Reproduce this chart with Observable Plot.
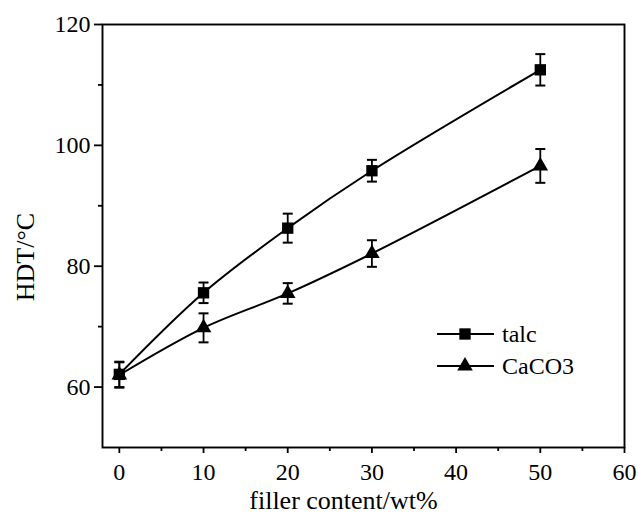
<!DOCTYPE html>
<html>
<head>
<meta charset="utf-8">
<script src="https://cdn.jsdelivr.net/npm/d3@7"></script>
<script src="https://cdn.jsdelivr.net/npm/@observablehq/plot@0.6"></script>
<style>
  html, body { margin: 0; padding: 0; background: #fff; }
  #chart { width: 638px; height: 517px; }
</style>
</head>
<body>
<div id="chart"></div>
<script>
// Filler loading (wt%) and heat deflection temperature (°C) with error bars
const content = [0, 10, 20, 30, 50];
const talcHDT = [62.1, 75.6, 86.3, 95.8, 112.5];
const talcErr = [2.1, 1.7, 2.4, 1.8, 2.6];
const caco3HDT = [62.0, 69.8, 75.5, 82.1, 96.6];
const caco3Err = [2.1, 2.4, 1.7, 2.2, 2.8];
const seriesNames = ["talc", "CaCO3"];
const seriesSymbols = ["square", "triangle"];

const xMajorTicks = [0, 10, 20, 30, 40, 50, 60];
const xMinorTicks = [5, 15, 25, 35, 45, 55];
const yMajorTicks = [60, 80, 100, 120];
const yMinorTicks = [70, 90, 110];

const xLabel = "filler content/wt%";
const yLabel = "HDT/°C";

const rows = [
  ...content.map((c, i) => ({series: seriesNames[0], x: c, y: talcHDT[i], e: talcErr[i]})),
  ...content.map((c, i) => ({series: seriesNames[1], x: c, y: caco3HDT[i], e: caco3Err[i]}))
];

// horizontal cap used at both ends of each error bar
const cap = {
  draw(context, size) {
    const w = 5;
    context.moveTo(-w, 0);
    context.lineTo(w, 0);
  }
};

const font = "Liberation Serif, Times New Roman, serif";
const marks = [];

seriesNames.forEach((name, k) => {
  const data = rows.filter(d => d.series === name);
  marks.push(
    Plot.line(data, {x: "x", y: "y", curve: "catmull-rom", stroke: "black", strokeWidth: 2}),
    Plot.ruleX(data, {x: "x", y1: d => d.y - d.e, y2: d => d.y + d.e, stroke: "black", strokeWidth: 1.8}),
    Plot.dot(data, {x: "x", y: d => d.y - d.e, symbol: cap, stroke: "black", strokeWidth: 2}),
    Plot.dot(data, {x: "x", y: d => d.y + d.e, symbol: cap, stroke: "black", strokeWidth: 2}),
    Plot.dot(data, {x: "x", y: "y", symbol: seriesSymbols[k], fill: "black", stroke: "none",
      r: seriesSymbols[k] === "square" ? 6.4 : 5.8})
  );
});

const chart = Plot.plot({
  width: 638,
  height: 517,
  marginLeft: 102,
  marginRight: 14,
  marginTop: 24,
  marginBottom: 70,
  style: {fontFamily: font, fontSize: "24px", color: "black", background: "white"},
  x: {domain: [-2, 60]},
  y: {domain: [50, 120]},
  marks: [
    Plot.axisY(yMajorTicks, {tickSize: 8, tickPadding: 4, strokeWidth: 1.8, label: null, fontSize: 24}),
    Plot.axisY(yMinorTicks, {tickSize: 4, text: null, strokeWidth: 1.8, label: null}),
    Plot.axisX(xMajorTicks, {tickSize: 6, tickPadding: 9, strokeWidth: 1.8, label: null, fontSize: 24}),
    Plot.axisX(xMinorTicks, {tickSize: 4, text: null, strokeWidth: 1.8, label: null}),
    Plot.frame({stroke: "black", strokeWidth: 1.9}),
    ...marks,
    Plot.text([xLabel], {frameAnchor: "bottom", dx: -20, dy: 53, lineAnchor: "middle", fontSize: 26, fill: "black"}),
    Plot.text([yLabel], {frameAnchor: "left", rotate: -90, dx: -77, dy: 21, textAnchor: "middle", lineAnchor: "middle", fontSize: 26, fill: "black"})
  ]
});

// Legend inside the plotting area
const svg = d3.select(chart);
const legend = svg.append("g")
  .attr("font-family", font)
  .attr("font-size", 24)
  .attr("text-anchor", "start");
seriesNames.forEach((name, k) => {
  const g = legend.append("g").attr("transform", `translate(437, ${334 + k * 32})`);
  g.append("line").attr("x1", 0).attr("x2", 57).attr("y1", 0).attr("y2", 0)
    .attr("stroke", "black").attr("stroke-width", 2);
  const r = seriesSymbols[k] === "square" ? 6.4 : 5.8;
  const sym = seriesSymbols[k] === "square" ? d3.symbolSquare : d3.symbolTriangle;
  g.append("path").attr("d", d3.symbol(sym, Math.PI * r * r)()).attr("transform", "translate(28,0)").attr("fill", "black");
  g.append("text").attr("x", 65).attr("y", 0).attr("dy", "0.32em").attr("fill", "black").text(name);
});

document.getElementById("chart").appendChild(chart);
</script>
</body>
</html>
